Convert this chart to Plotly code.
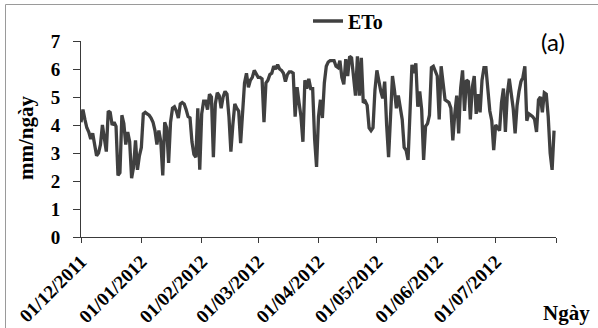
import pandas as pd
import plotly.graph_objects as go

start_date = "2011-12-01"
eto_values = [
    4.1, 4.55, 4.2, 3.9, 3.75, 3.5, 3.7, 3.2, 2.9, 3.0,
    3.3, 4.0, 3.6, 3.05, 4.5, 4.45, 4.0, 4.1, 3.95, 2.2,
    2.3, 4.35, 4.05, 3.3, 3.75, 3.4, 2.1, 2.5, 3.45, 2.4,
    2.9, 3.2, 4.4, 4.45, 4.4, 4.35, 4.25, 4.1, 3.8, 3.3,
    3.8, 3.4, 2.2, 4.1, 3.9, 2.65, 4.1, 4.6, 4.65, 4.5,
    4.25, 4.75, 4.8, 4.75, 4.55, 4.3, 4.25, 3.4, 2.95, 2.85,
    4.6, 2.4, 4.4, 4.85, 4.85, 4.55, 5.1, 5.0, 2.85, 4.75,
    5.15, 5.05, 4.6, 5.0, 5.2, 5.1, 4.3, 3.05, 4.0, 4.75,
    4.6, 4.5, 3.35, 4.4, 5.5, 5.85, 5.35, 5.6, 5.7, 5.95,
    5.85, 5.7, 5.7, 5.65, 4.1, 5.5, 5.6, 5.8, 5.85, 6.1,
    6.0, 6.15, 6.0, 5.95, 5.85, 5.55, 5.8, 5.9, 5.9, 5.85,
    4.3, 5.35, 4.8, 4.3, 3.4, 5.6, 5.3, 5.65, 5.3, 5.3,
    3.5, 2.5, 4.3, 4.9, 4.25, 5.5, 6.1, 6.25, 6.3, 6.3,
    6.3, 6.1, 6.05, 6.3, 5.7, 5.45, 6.35, 5.75, 6.45, 6.4,
    5.6, 5.05, 6.45, 5.05, 6.4, 4.8, 4.85, 4.7, 3.9, 3.8,
    3.9, 5.25, 5.95, 5.5, 5.2, 4.95, 5.55, 4.0, 2.85, 4.3,
    5.75, 5.25, 4.6, 5.05, 4.6, 4.2, 3.2, 3.1, 2.75, 4.65,
    6.15, 5.85, 6.2, 4.65, 5.2, 4.55, 2.75, 3.95, 4.05, 4.35,
    6.05, 6.1, 5.95, 5.75, 4.2, 6.1, 5.5, 4.9, 4.85, 4.8,
    4.6, 3.45, 4.4, 5.05, 3.7, 5.3, 5.95, 4.5, 5.6, 5.55,
    4.2, 5.35, 5.75, 4.4, 5.1, 4.45, 5.6, 6.05, 6.05, 5.1,
    4.5, 4.15, 3.1, 4.0, 3.9, 3.8, 4.8, 5.3, 3.75, 5.1,
    5.65, 5.15, 4.6, 3.7, 4.7, 5.2, 5.55, 5.7, 6.1, 4.15,
    4.4, 4.35, 4.3, 4.2, 3.75, 4.9, 5.0, 4.45, 5.15, 5.1,
    4.3, 3.0, 2.4, 3.8,
]
dates = pd.date_range(start_date, periods=len(eto_values), freq="D")

tick_dates = ["2011-12-01", "2012-01-01", "2012-02-01", "2012-03-01",
              "2012-04-01", "2012-05-01", "2012-06-01", "2012-07-01", "2012-08-01"]
tick_labels = ["01/12/2011", "01/01/2012", "01/02/2012", "01/03/2012",
               "01/04/2012", "01/05/2012", "01/06/2012", "01/07/2012", ""]
y_ticks = [0, 1, 2, 3, 4, 5, 6, 7]

series_name = "ETo"
y_title = "mm/ngày"
x_title = "Ngày"
panel_label = "(a)"

serif = "Liberation Serif, Times New Roman, serif"
axis_color = "#3a3a3a"

fig = go.Figure()
fig.add_trace(go.Scatter(
    x=dates, y=eto_values, mode="lines", name=series_name,
    line=dict(color="#404040", width=3.3),
))

W, H = 598, 328
L, R, T, B = 81, 42, 41, 91
pw, ph = W - L - R, H - T - B

def px_x(p):
    return (p - L) / pw

def px_y(p):
    return (H - B - p) / ph

fig.update_layout(
    width=W, height=H,
    margin=dict(l=L, r=R, t=T, b=B, pad=0, autoexpand=False),
    paper_bgcolor="white", plot_bgcolor="white",
    showlegend=True,
    legend=dict(
        orientation="h", x=px_x(308), y=px_y(21), xanchor="left", yanchor="middle",
        font=dict(family=serif, size=20, color="black", weight="bold"),
        bgcolor="rgba(0,0,0,0)", borderwidth=0,
    ),
    xaxis=dict(
        type="date", automargin=False,
        range=["2011-12-01", "2012-08-01"],
        tickmode="array", tickvals=tick_dates, ticktext=tick_labels,
        tickangle=-45,
        ticks="outside", ticklen=5, tickwidth=1, tickcolor=axis_color,
        showline=True, linecolor=axis_color, linewidth=1,
        showgrid=False, zeroline=False,
        tickfont=dict(family=serif, size=19, color="black", weight="bold"),
    ),
    yaxis=dict(
        range=[0, 7], automargin=False,
        tickmode="array", tickvals=y_ticks,
        ticks="outside", ticklen=7, tickwidth=1, tickcolor=axis_color,
        showline=True, linecolor=axis_color, linewidth=1,
        showgrid=False, zeroline=False,
        ticklabelstandoff=9,
        tickfont=dict(family=serif, size=19, color="black", weight="bold"),
    ),
    shapes=[dict(
        type="rect", xref="paper", yref="paper",
        x0=px_x(5.5), x1=px_x(602), y0=px_y(333), y1=px_y(4.5),
        line=dict(color="#9a9a9a", width=1), fillcolor="rgba(0,0,0,0)", layer="below",
    )],
    annotations=[
        dict(text=y_title, xref="paper", yref="paper", x=px_x(26), y=px_y(138),
             textangle=-90, showarrow=False, xanchor="center", yanchor="middle",
             font=dict(family=serif, size=21, color="black", weight="bold")),
        dict(text=x_title, xref="paper", yref="paper", x=px_x(566), y=px_y(313),
             showarrow=False, xanchor="center", yanchor="middle",
             font=dict(family=serif, size=21, color="black", weight="bold")),
        dict(text=panel_label, xref="paper", yref="paper", x=px_x(553), y=px_y(41),
             showarrow=False, xanchor="center", yanchor="middle",
             font=dict(family="Lato, Open Sans, sans-serif", size=24, color="black")),
    ],
)

fig.write_html("out.html")
